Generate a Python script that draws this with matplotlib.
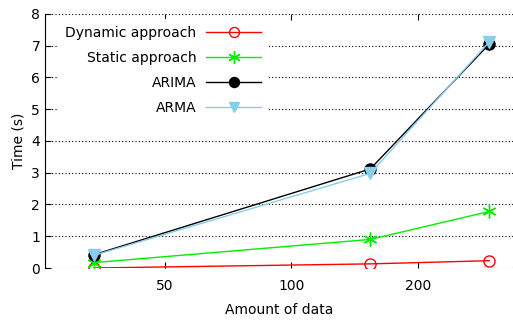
import matplotlib
matplotlib.use('Agg')
import matplotlib.pyplot as plt
from matplotlib.ticker import FixedLocator, FixedFormatter, NullLocator

# data
amount = [34, 154, 295]
dynamic = [0.0, 0.13, 0.23]
static = [0.17, 0.90, 1.78]
arima = [0.42, 3.12, 7.05]
arma = [0.40, 2.98, 7.12]
x_ticks = [50, 100, 200]
y_ticks = list(range(0, 9))

fig = plt.figure(figsize=(5.13, 3.2), dpi=100)
ax = fig.add_axes([0.0877, 0.1625, 0.9123, 0.7938])

ax.plot(amount, dynamic, color='red', lw=1, marker='o', ms=8, mfc='none', mec='red', label='Dynamic approach')
ax.plot(amount, static, color='#00ee00', lw=1, marker=(6, 2, 0), ms=10, mew=1, label='Static approach')
ax.plot(amount, arima, color='black', lw=1, marker='o', ms=8, label='ARIMA')
ax.plot(amount, arma, color='#87ceeb', lw=1, marker='v', ms=8, label='ARMA')

ax.set_xscale('log')
ax.set_xlim(26, 336)
ax.set_ylim(0, 8)
ax.xaxis.set_major_locator(FixedLocator(x_ticks))
ax.xaxis.set_major_formatter(FixedFormatter([str(t) for t in x_ticks]))
ax.xaxis.set_minor_locator(NullLocator())
ax.set_yticks(y_ticks)

ax.grid(True, axis='y', color='black', linestyle=(0, (1, 2)), linewidth=0.8)
ax.set_axisbelow(True)
for side in ['right', 'top', 'bottom']:
    ax.spines[side].set_visible(False)
ax.tick_params(axis='both', direction='in', length=4, labelsize=10, colors='black')
ax.tick_params(axis='x', top=True, pad=8)

ax.set_xlabel('Amount of data', fontsize=10, labelpad=7)
ax.set_ylabel('Time (s)', fontsize=10)

leg = ax.legend(loc='upper right', bbox_to_anchor=(268 / 513, 1 - 19 / 320),
                bbox_transform=fig.transFigure, markerfirst=False, frameon=True,
                fontsize=10, handlelength=3.95, handletextpad=0.7, borderpad=0.5,
                labelspacing=0.8, borderaxespad=0, markerscale=0.9)
leg.get_frame().set_edgecolor('none')
leg.get_frame().set_facecolor('white')
leg.get_frame().set_alpha(1)
leg.get_frame().set_boxstyle('square', pad=0)
for t in leg.get_texts():
    t.set_ha('right')

fig.savefig('out.png', dpi=100)
